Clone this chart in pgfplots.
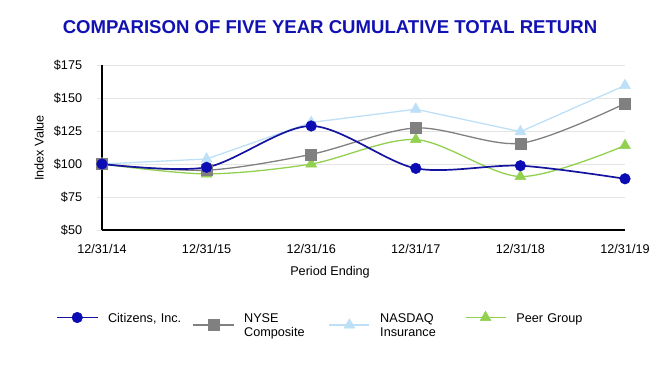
\documentclass[border=0pt]{standalone}
\usepackage{fontspec}
\setmainfont{Liberation Sans}
\usepackage{pgfplots}
\pgfplotsset{compat=1.18}
\definecolor{citz}{HTML}{0C0CB4}
\definecolor{citzline}{HTML}{14149E}
\definecolor{nyse}{HTML}{808080}
\definecolor{nasd}{HTML}{BDE0F7}
\definecolor{peer}{HTML}{92D050}
\definecolor{ttl}{HTML}{1212B2}
\definecolor{gridc}{HTML}{E4E4E4}
\pgfplotsset{
  legone/.style={legend image code/.code={\draw[mark repeat=2,mark phase=2,yshift=-4.5bp,##1,line width=1.6bp] plot coordinates {(0bp,0bp) (20bp,0bp) (40bp,0bp)};}},
  legtwo/.style={legend image code/.code={\draw[mark repeat=2,mark phase=2,yshift=-12bp,##1,line width=1.6bp] plot coordinates {(0bp,0bp) (20bp,0bp) (40bp,0bp)};}},
}
\begin{document}
\begin{tikzpicture}[x=1bp,y=1bp]
\path[use as bounding box] (0,0) rectangle (658,369);
\node[font=\bfseries\fontsize{18.65}{21}\selectfont, text=ttl, inner sep=0pt] at (330,342.3) {COMPARISON OF FIVE YEAR CUMULATIVE TOTAL RETURN};
\begin{axis}[
  at={(102bp,139bp)}, anchor=south west,
  scale only axis, width=523bp, height=165bp,
  clip=false,
  xmin=0, xmax=5, ymin=50, ymax=175,
  xtick={0,1,2,3,4,5},
  xticklabels={12/31/14,12/31/15,12/31/16,12/31/17,12/31/18,12/31/19},
  ytick={50,75,100,125,150,175},
  yticklabel={\$\pgfmathprintnumber[assume math mode=true]{\tick}},
  axis lines*=left,
  axis line style={line width=1.5bp, black},
  ymajorgrids,
  grid style={gridc, line width=0.9bp},
  major tick length=5bp,
  tick align=outside,
  xtick style={draw=none},
  ytick style={gridc, line width=0.9bp},
  tick label style={font=\fontsize{12.7}{15}\selectfont},
  xticklabel style={anchor=base, inner sep=0pt, yshift=-18.3bp},
  yticklabel style={anchor=east, inner sep=0pt, xshift=-14.7bp},
  label style={font=\fontsize{12.7}{15}\selectfont},
  xlabel={Period Ending},
  xlabel style={at={(axis description cs:0.436,-0.277)}, anchor=base, inner sep=0pt},
  ylabel={Index Value},
  ylabel style={at={(axis description cs:-0.1205,0.497)}, anchor=center, inner sep=0pt},
  reverse legend,
  legend columns=4,
  legend style={at={(axis description cs:-0.0875,-0.491)}, anchor=north west, draw=none, inner sep=0pt,
    font=\fontsize{12.7}{15}\selectfont,
    nodes={text width=74.5bp, align=left, inner sep=0pt, anchor=north west},
    /tikz/every odd column/.append style={column sep=10bp},
    /tikz/every even column/.append style={column sep=10bp}},
]
% Peer Group
\addplot[peer, line width=1.3bp, smooth, mark=triangle*, mark size=6.3bp, mark options={solid, fill=peer, draw=peer, line width=0.5bp}, legone]
  coordinates {(0,100) (1,92.5) (2,100) (3,118.5) (4,90.5) (5,114)};
\addlegendentry{Peer Group}
% NASDAQ Insurance
\addplot[nasd, line width=1.3bp, mark=triangle*, mark size=6.3bp, mark options={solid, fill=nasd, draw=nasd, line width=0.5bp}, legtwo]
  coordinates {(0,100) (1,103.8) (2,131.5) (3,141.5) (4,124.5) (5,159.5)};
\addlegendentry{NASDAQ\\Insurance}
% NYSE Composite
\addplot[nyse, line width=1.3bp, smooth, mark=square*, mark size=5.5bp, mark options={solid, fill=nyse, draw=nyse, line width=0.5bp}, legtwo]
  coordinates {(0,100) (1,95.3) (2,107.3) (3,127.3) (4,115.7) (5,145.8)};
\addlegendentry{NYSE\\Composite}
% Citizens
\addplot[citzline, line width=1.7bp, smooth, mark=*, mark size=5.3bp, mark options={solid, fill=citz, draw=citz, line width=0.5bp}, legone]
  coordinates {(0,100) (1,97.5) (2,128.8) (3,96.7) (4,98.7) (5,88.8)};
\addlegendentry{Citizens, Inc.}
\end{axis}
\end{tikzpicture}
\end{document}
